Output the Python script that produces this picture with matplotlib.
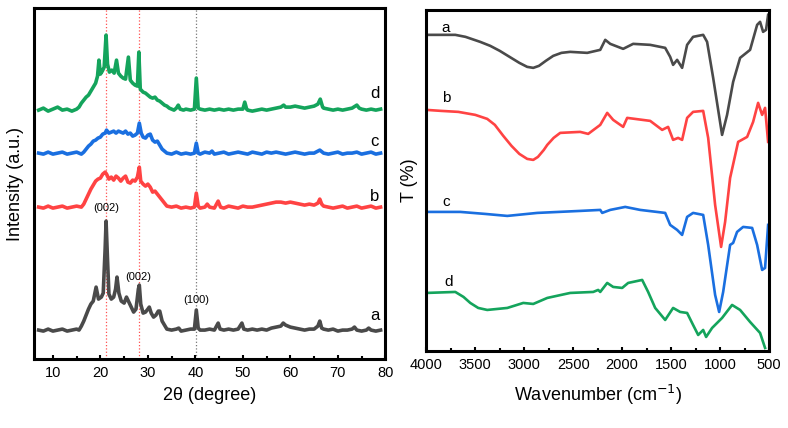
import numpy as np
import matplotlib.pyplot as plt
from matplotlib.ticker import MultipleLocator

plt.rcParams['font.family'] = ['Liberation Sans', 'DejaVu Sans']

# ---- XRD (2theta, intensity a.u.) ----
xrd_a = [(7, 29), (8, 28), (9, 30), (10, 28), (11, 29), (12, 30), (13, 28), (14, 29), (15, 30),
         (15.5, 29), (16, 33), (16.5, 38), (17, 44), (17.5, 50), (18, 55), (18.5, 58), (19.1, 72),
         (19.6, 60), (20.2, 62), (20.6, 66), (21.0, 110), (21.2, 138), (21.5, 100), (21.8, 65),
         (22.3, 60), (22.8, 62), (23.2, 70), (23.5, 82), (23.9, 66), (24.4, 58), (25, 56), (25.5, 62),
         (26, 57), (26.5, 52), (27, 47), (27.5, 50), (28.0, 70), (28.2, 74), (28.5, 55), (29, 46),
         (29.5, 47), (30.0, 50), (30.3, 52), (30.7, 46), (31.2, 42), (31.7, 44), (32.2, 48),
         (32.5, 48), (33, 38), (33.5, 34), (34, 30), (35, 29), (36, 30), (36.5, 31), (37, 28),
         (38, 29), (39, 30), (39.8, 30), (40.2, 49), (40.6, 31), (41, 29), (42, 29), (43, 30),
         (44, 29), (44.8, 36), (45.2, 30), (46, 29), (47, 30), (48, 29), (49, 30), (49.8, 36),
         (50.2, 30), (51, 29), (52, 30), (53, 29), (54, 30), (55, 29), (56, 31), (57, 32), (58, 33),
         (58.5, 36), (59, 34), (60, 32), (61, 31), (62, 30), (63, 29), (64, 30), (65, 30),
         (65.8, 33), (66.2, 38), (66.6, 31), (67, 30), (68, 29), (69, 30), (70, 28), (71, 29),
         (72, 29), (73, 30), (73.5, 32), (74, 29), (75, 28), (76, 29), (76.5, 31), (77, 29),
         (78, 28), (79, 29)]

xrd_b = [(7, 152), (8, 151), (9, 153), (10, 151), (11, 152), (12, 153), (13, 151), (14, 152),
         (15, 153), (16, 152), (16.5, 155), (17, 160), (17.5, 165), (18, 170), (18.5, 174),
         (19, 178), (19.5, 180), (20, 181), (20.5, 185), (21, 187), (21.3, 185), (21.8, 180),
         (22.3, 182), (22.8, 179), (23.3, 183), (23.8, 181), (24.3, 178), (24.8, 181), (25.3, 183),
         (25.8, 177), (26.3, 176), (26.8, 179), (27.3, 178), (27.8, 182), (28.2, 192), (28.5, 178),
         (29, 175), (29.5, 173), (30, 175), (30.5, 172), (31, 167), (31.5, 168), (32, 165),
         (32.5, 162), (33, 159), (33.5, 156), (34, 153), (35, 152), (36, 153), (37, 151), (38, 152),
         (39, 151), (39.8, 152), (40.2, 166), (40.6, 153), (41, 151), (42, 152), (42.5, 155),
         (43, 152), (44, 151), (44.8, 158), (45.3, 152), (46, 151), (47, 153), (48, 152), (49, 151),
         (50, 153), (51, 152), (52, 152), (53, 153), (54, 154), (55, 155), (56, 156), (57, 157),
         (58, 157), (59, 156), (60, 157), (61, 156), (62, 155), (63, 154), (64, 155), (65, 154),
         (65.8, 156), (66.2, 160), (66.6, 155), (67, 153), (68, 152), (69, 151), (70, 152),
         (71, 153), (72, 151), (73, 152), (74, 153), (75, 151), (76, 152), (77, 153), (78, 151),
         (79, 152)]

xrd_c = [(7, 206), (8, 205), (9, 207), (10, 205), (11, 206), (12, 207), (13, 205), (14, 206),
         (15, 207), (16, 205), (16.5, 207), (17, 210), (17.5, 213), (18, 215), (18.5, 218),
         (19, 219), (19.5, 221), (20, 222), (20.5, 225), (21.0, 226), (21.3, 229), (21.8, 226),
         (22.3, 227), (22.8, 228), (23.3, 226), (23.8, 228), (24.3, 227), (24.8, 226), (25.3, 228),
         (25.8, 225), (26.3, 226), (26.8, 223), (27.3, 224), (27.8, 226), (28.2, 236), (28.6, 226),
         (29, 222), (29.5, 221), (30, 224), (30.5, 225), (31, 219), (31.5, 217), (32, 218),
         (32.5, 214), (33, 210), (33.5, 208), (34, 206), (35, 205), (36, 207), (37, 205), (38, 206),
         (39, 205), (39.8, 206), (40.2, 216), (40.6, 206), (41, 205), (42, 207), (43, 206),
         (43.5, 208), (44, 205), (45, 206), (46, 207), (47, 205), (48, 206), (49, 207), (50, 206),
         (51, 205), (52, 207), (53, 206), (54, 205), (55, 207), (56, 206), (57, 207), (58, 206),
         (59, 205), (60, 206), (61, 207), (62, 206), (63, 205), (64, 206), (65, 206), (66.2, 209),
         (67, 206), (68, 205), (69, 206), (70, 207), (71, 205), (72, 206), (73, 206), (74, 207),
         (75, 205), (76, 206), (77, 207), (78, 205), (79, 206)]

xrd_d = [(7, 249), (8, 251), (9, 248), (10, 250), (11, 252), (12, 249), (13, 250), (14, 248),
         (15, 250), (15.5, 252), (16, 256), (16.5, 259), (17, 262), (17.5, 264), (18, 268),
         (18.5, 272), (19, 276), (19.4, 283), (19.7, 299), (20.0, 285), (20.4, 288), (20.8, 292),
         (21.2, 324), (21.5, 295), (21.9, 287), (22.4, 289), (22.9, 286), (23.4, 299), (23.8, 286),
         (24.3, 283), (24.8, 281), (25.3, 280), (25.9, 302), (26.3, 279), (26.8, 276), (27.3, 274),
         (27.8, 273), (28.1, 307), (28.4, 270), (29, 267), (29.5, 266), (30, 264), (30.5, 262),
         (31, 261), (31.5, 262), (32, 259), (32.5, 258), (33, 256), (33.5, 254), (34, 253),
         (34.5, 251), (35, 250), (35.5, 249), (36, 251), (36.4, 254), (36.8, 250), (37.5, 249),
         (38, 250), (39, 249), (39.8, 250), (40.2, 281), (40.6, 251), (41, 250), (42, 249),
         (43, 250), (44, 249), (45, 250), (46, 249), (47, 250), (48, 249), (49, 250), (50, 250),
         (50.4, 257), (50.8, 250), (51, 249), (52, 248), (53, 249), (54, 250), (55, 249), (56, 250),
         (57, 251), (58, 252), (58.6, 254), (59, 252), (60, 252), (61, 253), (62, 252), (63, 251),
         (64, 252), (65, 253), (65.8, 255), (66.3, 260), (66.8, 252), (67, 251), (68, 250),
         (69, 249), (70, 250), (71, 249), (72, 250), (73, 251), (74, 254), (74.5, 251), (75, 250),
         (76, 249), (77, 250), (78, 249), (79, 250)]

xrd_labels = ['a', 'b', 'c', 'd']
xrd_label_y = [44, 163, 218, 266]
ref_lines = [21.2, 28.2, 40.2]
peak_names = ['(002)', '(002)', '(100)']
peak_pos = [(21.2, 151), (28.0, 82), (40.2, 59)]

# ---- FTIR (wavenumber, T %) ----
ftir_a = [(4000, 316), (3850, 316), (3704, 316), (3600, 314), (3450, 309), (3347, 305),
          (3250, 300), (3150, 294), (3050, 288), (2970, 284), (2908, 283), (2850, 285),
          (2780, 290), (2704, 295), (2620, 298), (2531, 299), (2357, 298), (2224, 301),
          (2173, 311), (2122, 307), (1990, 302), (1888, 307), (1714, 306), (1561, 303),
          (1510, 294), (1480, 286), (1439, 291), (1388, 283), (1337, 306), (1276, 314),
          (1173, 316), (1133, 309), (1071, 273), (980, 216), (929, 236), (867, 269), (796, 293),
          (694, 301), (622, 326), (592, 329), (561, 319), (531, 321), (510, 336)]
ftir_b = [(4000, 241), (3850, 240), (3673, 239), (3500, 236), (3378, 232), (3300, 226),
          (3214, 215), (3130, 205), (3050, 197), (2970, 192), (2908, 191), (2860, 194),
          (2800, 201), (2765, 206), (2700, 213), (2633, 218), (2429, 219), (2347, 217),
          (2224, 226), (2153, 238), (2092, 231), (1990, 224), (1949, 233), (1714, 230),
          (1592, 221), (1531, 224), (1480, 211), (1429, 213), (1388, 211), (1337, 233),
          (1276, 239), (1173, 240), (1122, 213), (1051, 146), (990, 104), (949, 129), (898, 173),
          (816, 209), (724, 214), (663, 229), (612, 248), (571, 236), (541, 243), (510, 209)]
ftir_c = [(4000, 139), (3653, 139), (3400, 137), (3173, 135), (2867, 138), (2429, 140),
          (2224, 141), (2204, 138), (2122, 141), (1969, 144), (1816, 141), (1561, 138),
          (1510, 126), (1439, 121), (1388, 116), (1337, 134), (1276, 138), (1173, 136),
          (1122, 106), (1051, 56), (1010, 39), (969, 59), (898, 106), (867, 108), (827, 119),
          (765, 124), (673, 123), (622, 106), (571, 81), (541, 83), (510, 126)]
ftir_d = [(4000, 58), (3704, 59), (3620, 54), (3551, 48), (3470, 43), (3378, 41), (3173, 43),
          (3010, 48), (2908, 47), (2765, 53), (2531, 58), (2296, 59), (2245, 61), (2224, 59),
          (2153, 68), (2092, 64), (2000, 63), (1939, 68), (1796, 71), (1735, 59), (1663, 43),
          (1561, 31), (1480, 43), (1408, 39), (1337, 38), (1276, 26), (1224, 16), (1173, 21),
          (1143, 14), (1082, 23), (980, 33), (878, 46), (796, 41), (694, 29), (592, 18), (541, 3)]

ftir_label_pos = [(3806, 323), (3796, 253), (3796, 149), (3776, 69)]

colors = ['#4a4a4a', '#ff4343', '#1a6fe0', '#14a45c']

fig = plt.figure(figsize=(7.88, 4.28), dpi=100)
ax1 = fig.add_axes([0.043, 0.161, 0.446, 0.820])
ax2 = fig.add_axes([0.541, 0.180, 0.435, 0.797])

# XRD
for xv in ref_lines[:2]:
    ax1.axvline(xv, color='#ff5050', lw=0.9, ls=':', zorder=1)
ax1.axvline(ref_lines[2], color='#777777', lw=0.9, ls=':', zorder=1)
for data, col, lab, ly in zip([xrd_a, xrd_b, xrd_c, xrd_d], colors, xrd_labels, xrd_label_y):
    arr = np.array(data)
    ax1.plot(arr[:, 0], arr[:, 1], color=col, lw=2.6, zorder=2)
    ax1.text(77.8, ly, lab, fontsize=12, ha='center', va='center')
for name, (px, py) in zip(peak_names, peak_pos):
    ax1.text(px, py, name, fontsize=8, ha='center', va='center')
ax1.set_xlim(6, 80)
ax1.set_ylim(0, 351)
ax1.set_yticks([])
ax1.xaxis.set_major_locator(MultipleLocator(10))
ax1.xaxis.set_minor_locator(MultipleLocator(5))
ax1.tick_params(axis='x', direction='in', length=3, width=1.5, labelsize=10.5, pad=5)
ax1.tick_params(axis='x', which='minor', direction='in', length=2, width=1.5)
ax1.set_xlabel('2θ (degree)', fontsize=13, labelpad=5)
ax1.set_ylabel('Intensity (a.u.)', fontsize=13, labelpad=7)

# FTIR
for data, col, (lx, ly), lab in zip([ftir_a, ftir_b, ftir_c, ftir_d], colors, ftir_label_pos, xrd_labels):
    arr = np.array(data)
    ax2.plot(arr[:, 0], arr[:, 1], color=col, lw=1.9)
    ax2.text(lx, ly, lab, fontsize=11, ha='center', va='center')
ax2.set_xlim(4000, 500)
ax2.set_ylim(0, 341)
ax2.set_yticks([])
ax2.xaxis.set_major_locator(MultipleLocator(500))
ax2.xaxis.set_minor_locator(MultipleLocator(250))
ax2.tick_params(axis='x', direction='in', length=3, width=1.5, labelsize=10.5, pad=5)
ax2.tick_params(axis='x', which='minor', direction='in', length=2, width=1.5)
ax2.set_xlabel('Wavenumber (cm$^{-1}$)', fontsize=13, labelpad=8)
ax2.set_ylabel('T (%)', fontsize=13, labelpad=6)

for ax in (ax1, ax2):
    for sp in ax.spines.values():
        sp.set_linewidth(2.2)

fig.savefig('out.png', dpi=100)
